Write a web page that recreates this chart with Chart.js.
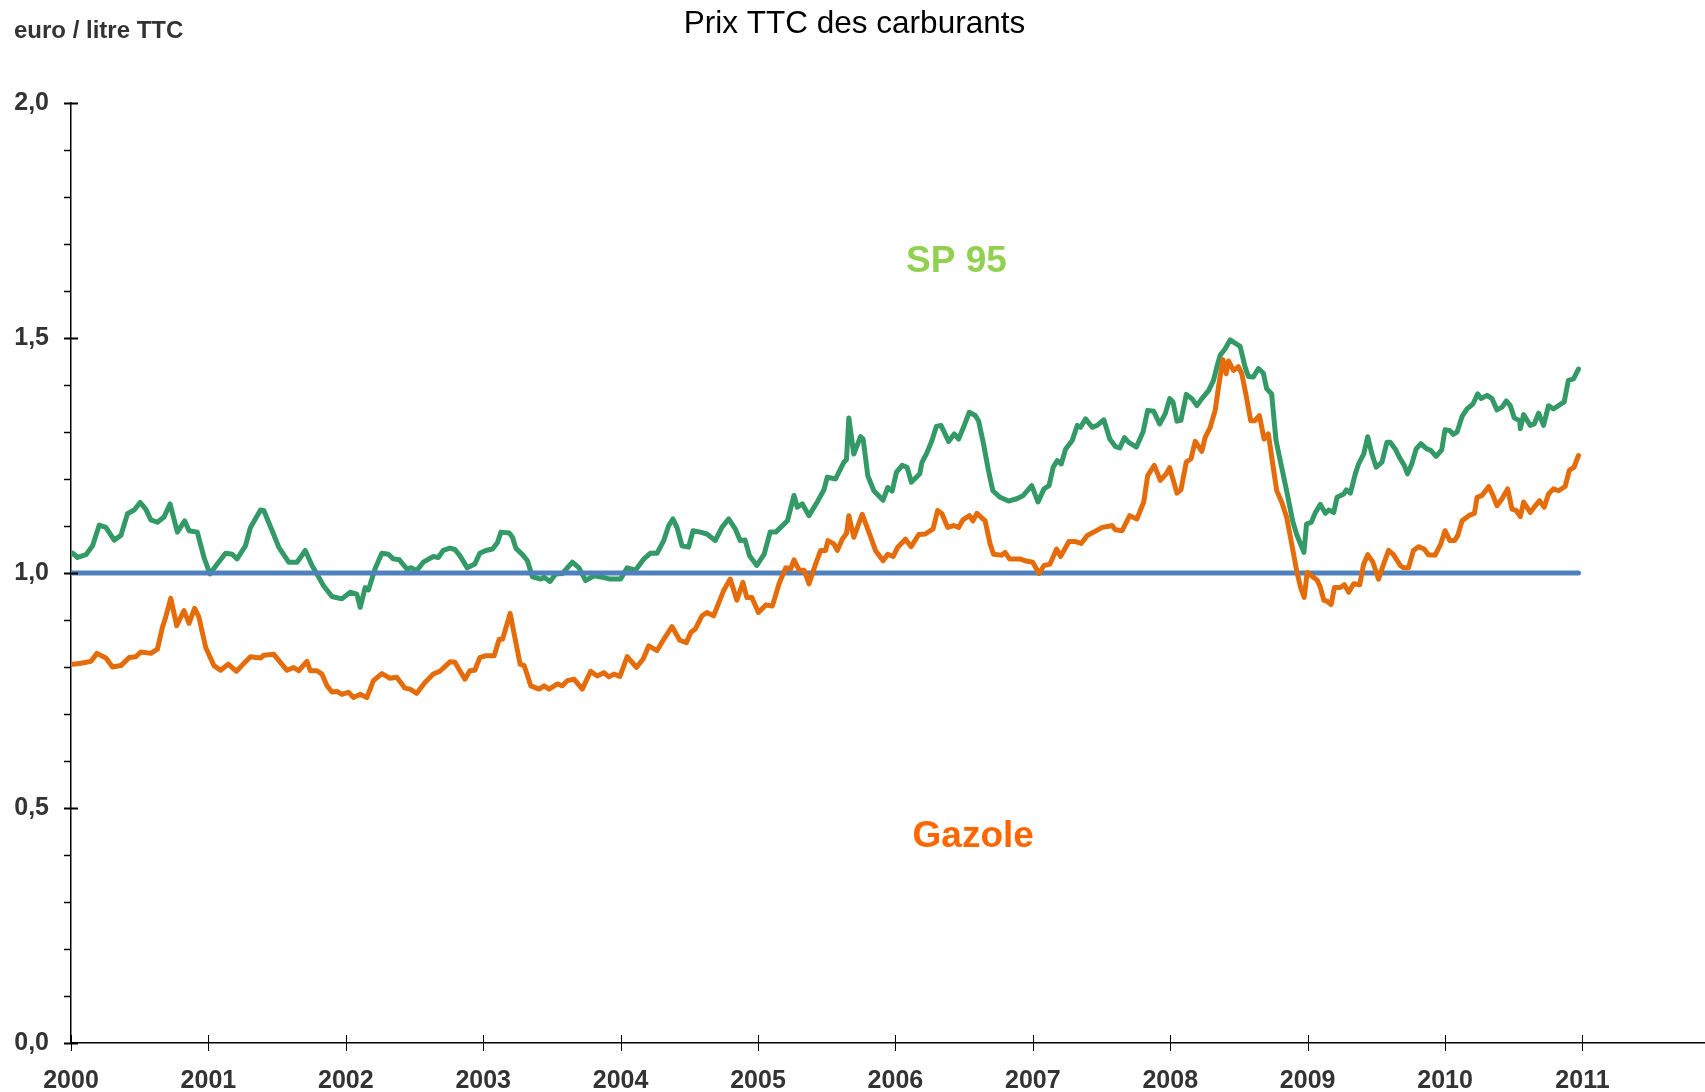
<!DOCTYPE html>
<html lang="fr">
<head>
<meta charset="UTF-8">
<title>Prix TTC des carburants</title>
<script src="https://cdn.jsdelivr.net/npm/chart.js@4.4.1/dist/chart.umd.min.js"></script>
<style>
    body { margin: 0; background: #fff; }
    #wrap { width: 1705px; height: 1092px; }
</style>
</head>
<body>
<div id="wrap"><canvas id="prixChart" width="1705" height="1092"></canvas></div>
<script>
    // years since 2000 and price in euro / litre
    let spTimes = [0.012,0.048,0.109,0.157,0.206,0.254,0.314,0.363,0.411,0.460,0.503,0.544,0.581,0.629,0.677,0.721,0.774,0.827,0.859,0.919,0.968,
        1.011,1.064,1.125,1.173,1.209,1.270,1.306,1.379,1.403,1.464,1.512,1.584,1.645,1.705,1.754,1.790,1.838,1.899,1.971,
        2.032,2.080,2.105,2.141,2.165,2.213,2.262,2.310,2.346,2.390,2.443,2.479,2.516,2.564,2.637,2.673,2.709,2.758,2.794,2.830,2.884,2.939,2.975,
        3.020,3.068,3.104,3.129,3.189,3.213,3.237,3.286,3.322,3.358,3.419,3.443,3.486,3.528,3.576,3.649,3.697,3.745,3.806,3.866,3.927,3.999,
        4.048,4.108,4.169,4.217,4.265,4.314,4.350,4.381,4.410,4.447,4.495,4.527,4.580,4.628,4.689,4.737,4.786,4.834,4.870,4.906,4.938,4.991,
        5.045,5.088,5.129,5.165,5.214,5.262,5.286,5.323,5.371,5.431,5.480,5.504,5.564,5.625,5.644,5.661,5.697,5.746,5.765,5.799,5.843,5.910,5.944,5.976,6.007,
        6.049,6.085,6.116,6.177,6.194,6.225,6.266,6.298,6.332,6.387,6.428,6.460,6.501,6.537,6.581,6.605,6.641,6.677,6.709,6.762,6.823,6.883,6.931,6.992,
        7.038,7.081,7.118,7.149,7.178,7.207,7.239,7.287,7.323,7.347,7.384,7.432,7.468,7.517,7.560,7.601,7.633,7.667,7.698,7.754,7.802,7.836,7.880,7.923,7.964,7.996,
        8.020,8.049,8.078,8.117,8.158,8.194,8.230,8.279,8.315,8.339,8.363,8.400,8.436,8.472,8.509,8.545,8.569,8.605,8.642,8.678,8.702,8.738,8.770,8.811,8.847,8.891,8.919,8.944,8.973,8.992,
        9.027,9.057,9.093,9.129,9.154,9.190,9.214,9.262,9.282,9.311,9.347,9.371,9.408,9.437,9.468,9.499,9.541,9.577,9.601,9.637,9.674,9.703,9.727,9.758,9.790,9.824,9.867,9.896,9.935,9.976,10.000,
        10.035,10.059,10.088,10.124,10.160,10.204,10.238,10.262,10.306,10.342,10.378,10.415,10.446,10.475,10.504,10.543,10.548,10.572,10.620,10.649,10.681,10.717,10.753,10.789,10.826,10.867,10.898,10.935,10.971];
    let spPrices = [1.042,1.033,1.039,1.058,1.102,1.097,1.070,1.080,1.126,1.134,1.150,1.136,1.113,1.108,1.119,1.147,1.087,1.111,1.090,1.087,1.033,
        0.998,1.019,1.042,1.040,1.030,1.058,1.097,1.134,1.133,1.090,1.055,1.023,1.023,1.048,1.016,0.998,0.973,0.950,0.945,
        0.959,0.955,0.927,0.969,0.964,1.009,1.042,1.040,1.030,1.028,1.009,1.011,1.005,1.023,1.035,1.033,1.048,1.053,1.050,1.037,1.011,1.019,1.042,
        1.048,1.051,1.065,1.087,1.085,1.076,1.053,1.039,1.026,0.992,0.987,0.991,0.982,0.998,0.999,1.023,1.011,0.984,0.994,0.991,0.987,0.987,
        1.011,1.006,1.030,1.042,1.042,1.069,1.101,1.115,1.097,1.058,1.055,1.090,1.087,1.083,1.069,1.097,1.115,1.094,1.069,1.070,1.037,1.016,
        1.040,1.087,1.087,1.097,1.111,1.165,1.140,1.147,1.122,1.151,1.177,1.204,1.200,1.236,1.241,1.330,1.253,1.290,1.285,1.207,1.175,1.155,1.182,1.174,1.214,
        1.229,1.225,1.193,1.211,1.236,1.253,1.282,1.312,1.314,1.280,1.296,1.285,1.314,1.342,1.335,1.324,1.275,1.218,1.175,1.161,1.153,1.158,1.165,1.186,
        1.151,1.179,1.186,1.226,1.239,1.232,1.264,1.282,1.314,1.310,1.328,1.310,1.314,1.326,1.285,1.269,1.266,1.288,1.278,1.268,1.300,1.346,1.344,1.317,1.339,1.371,
        1.364,1.323,1.325,1.380,1.371,1.356,1.371,1.388,1.410,1.438,1.463,1.477,1.496,1.489,1.482,1.438,1.418,1.417,1.435,1.425,1.392,1.381,1.282,1.225,1.175,1.111,1.083,1.065,1.044,1.104,
        1.108,1.129,1.146,1.127,1.134,1.129,1.161,1.168,1.177,1.170,1.211,1.232,1.253,1.290,1.253,1.225,1.236,1.278,1.278,1.264,1.243,1.229,1.211,1.232,1.264,1.275,1.264,1.261,1.248,1.262,1.305,
        1.303,1.295,1.300,1.333,1.349,1.360,1.381,1.371,1.378,1.371,1.347,1.353,1.366,1.356,1.330,1.324,1.307,1.337,1.314,1.317,1.340,1.314,1.356,1.349,1.356,1.364,1.410,1.413,1.434];

    let gasTimes = [0.012,0.073,0.145,0.189,0.254,0.302,0.363,0.423,0.472,0.508,0.581,0.629,0.665,0.689,0.726,0.769,0.822,0.859,0.900,0.931,0.980,
        1.040,1.089,1.144,1.204,1.246,1.306,1.379,1.403,1.476,1.572,1.621,1.657,1.717,1.742,1.790,1.826,1.863,1.899,1.935,1.971,
        2.020,2.056,2.105,2.153,2.201,2.262,2.322,2.371,2.431,2.467,2.516,2.576,2.637,2.685,2.758,2.794,2.867,2.903,2.939,2.975,
        3.020,3.080,3.116,3.141,3.196,3.230,3.269,3.298,3.346,3.407,3.443,3.479,3.540,3.576,3.612,3.661,3.721,3.782,3.830,3.878,3.915,3.951,3.995,
        4.048,4.115,4.164,4.205,4.265,4.314,4.374,4.430,4.479,4.512,4.544,4.592,4.628,4.677,4.749,4.798,4.846,4.890,4.918,4.955,5.003,
        5.057,5.105,5.153,5.202,5.238,5.262,5.299,5.335,5.371,5.419,5.456,5.492,5.509,5.552,5.577,5.613,5.644,5.661,5.697,5.758,5.807,5.855,5.910,5.944,5.983,
        6.017,6.073,6.114,6.170,6.218,6.274,6.307,6.339,6.380,6.423,6.460,6.491,6.539,6.564,6.593,6.653,6.689,6.714,6.774,6.798,6.830,6.907,6.943,6.999,
        7.045,7.081,7.125,7.173,7.202,7.263,7.311,7.352,7.396,7.444,7.505,7.541,7.577,7.601,7.650,7.705,7.758,7.807,7.836,7.884,7.928,7.971,7.996,
        8.049,8.078,8.117,8.151,8.182,8.230,8.255,8.291,8.327,8.351,8.383,8.407,8.424,8.460,8.496,8.521,8.552,8.586,8.617,8.649,8.683,8.714,8.746,8.775,8.811,8.847,8.884,8.920,8.949,8.975,8.997,
        9.027,9.069,9.093,9.118,9.142,9.171,9.195,9.238,9.267,9.299,9.335,9.379,9.408,9.437,9.475,9.516,9.553,9.589,9.625,9.674,9.698,9.734,9.770,9.807,9.848,9.879,9.928,9.969,10.000,
        10.035,10.069,10.093,10.124,10.173,10.214,10.233,10.269,10.318,10.349,10.378,10.415,10.456,10.487,10.518,10.548,10.572,10.620,10.649,10.688,10.722,10.753,10.789,10.826,10.874,10.905,10.939,10.971];
    let gasPrices = [0.806,0.808,0.812,0.829,0.819,0.800,0.803,0.820,0.822,0.832,0.829,0.838,0.884,0.906,0.946,0.888,0.920,0.893,0.925,0.906,0.842,
        0.803,0.793,0.806,0.791,0.804,0.822,0.819,0.825,0.827,0.793,0.799,0.792,0.812,0.792,0.792,0.785,0.760,0.747,0.748,0.742,
        0.746,0.735,0.742,0.735,0.771,0.786,0.776,0.778,0.755,0.753,0.744,0.767,0.785,0.791,0.811,0.810,0.774,0.792,0.793,0.820,
        0.824,0.824,0.859,0.859,0.914,0.863,0.806,0.803,0.760,0.753,0.760,0.753,0.764,0.760,0.771,0.774,0.753,0.791,0.781,0.788,0.779,0.785,0.780,
        0.822,0.799,0.817,0.845,0.835,0.859,0.886,0.857,0.852,0.874,0.881,0.909,0.916,0.909,0.962,0.987,0.942,0.980,0.948,0.948,0.916,
        0.932,0.930,0.977,1.011,1.009,1.028,1.006,1.006,0.977,1.019,1.048,1.048,1.069,1.062,1.048,1.072,1.084,1.122,1.076,1.125,1.087,1.048,1.026,1.040,1.035,
        1.055,1.072,1.056,1.082,1.083,1.094,1.133,1.126,1.097,1.101,1.097,1.113,1.122,1.111,1.127,1.111,1.062,1.040,1.038,1.044,1.030,1.030,1.026,1.023,
        0.999,1.016,1.019,1.051,1.035,1.067,1.067,1.063,1.080,1.087,1.097,1.099,1.101,1.092,1.090,1.122,1.115,1.151,1.207,1.229,1.197,1.211,1.224,
        1.170,1.177,1.236,1.243,1.280,1.259,1.289,1.310,1.346,1.395,1.454,1.424,1.451,1.431,1.439,1.424,1.378,1.324,1.324,1.335,1.285,1.296,1.232,1.175,1.151,1.119,1.062,1.005,0.969,0.948,1.001,
        0.994,0.985,0.969,0.942,0.940,0.933,0.969,0.969,0.975,0.959,0.977,0.975,1.019,1.039,1.023,0.987,1.019,1.048,1.039,1.016,1.011,1.011,1.048,1.056,1.051,1.039,1.038,1.062,1.090,
        1.069,1.069,1.080,1.111,1.122,1.127,1.161,1.165,1.184,1.165,1.143,1.158,1.179,1.136,1.133,1.120,1.151,1.129,1.140,1.154,1.140,1.168,1.179,1.175,1.184,1.219,1.225,1.250];

    // reference line at 1 euro
    let refTimes = [0, 10.971];
    let refPrices = [1, 1];

    let yearTicks = [2000,2001,2002,2003,2004,2005,2006,2007,2008,2009,2010,2011];
    let priceTicks = [0, 0.5, 1, 1.5, 2];

    const FONT = '"Liberation Sans", Arial, sans-serif';

    function toPoints(times, values) {
        return times.map((t, i) => ({ x: 2000 + t, y: values[i] }));
    }

    // tick marks crossing the axes, titles and series names
    const decor = {
        id: 'decor',
        afterDraw(chart) {
            const ctx = chart.ctx;
            const xs = chart.scales.x, ys = chart.scales.y;
            const area = chart.chartArea;
            ctx.save();
            ctx.strokeStyle = '#000';
            ctx.lineWidth = 1;
            yearTicks.forEach(v => {
                const px = Math.round(xs.getPixelForValue(v)) + 0.5;
                ctx.beginPath();
                ctx.moveTo(px, area.bottom - 8);
                ctx.lineTo(px, area.bottom + 8);
                ctx.stroke();
            });
            for (let i = 0; i <= 20; i++) {
                const py = Math.round(ys.getPixelForValue(i / 10)) + 0.5;
                const major = i % 5 === 0;
                ctx.lineWidth = major ? 2 : 1.5;
                ctx.beginPath();
                ctx.moveTo(area.left - 7, py);
                ctx.lineTo(major ? area.left + 7 : area.left, py);
                ctx.stroke();
            }

            ctx.textBaseline = 'middle';
            ctx.fillStyle = '#000';
            ctx.textAlign = 'center';
            ctx.font = '31.5px ' + FONT;
            ctx.fillText('Prix TTC des carburants', chart.width / 2 + 2, 24);

            ctx.fillStyle = '#333';
            ctx.textAlign = 'left';
            ctx.font = 'bold 24px ' + FONT;
            ctx.fillText('euro / litre TTC', 14, 31);

            ctx.textAlign = 'center';
            ctx.font = 'bold 37px ' + FONT;
            ctx.fillStyle = '#92D050';
            ctx.fillText('SP 95', xs.getPixelForValue(2006.444), ys.getPixelForValue(1.662));
            ctx.fillStyle = '#FF6600';
            ctx.fillText('Gazole', xs.getPixelForValue(2006.566), ys.getPixelForValue(0.438));
            ctx.restore();
        }
    };

    let ctx = document.getElementById('prixChart').getContext('2d');
    let prixChart = new Chart(ctx, {
        type: 'line',
        data: {
            datasets: [{
                label: 'SP 95',
                data: toPoints(spTimes, spPrices),
                borderColor: '#339966',
                borderWidth: 5,
                order: 3
            },
            {
                label: 'Référence',
                data: toPoints(refTimes, refPrices),
                borderColor: '#4F81BD',
                borderWidth: 5,
                order: 2
            },
            {
                label: 'Gazole',
                data: toPoints(gasTimes, gasPrices),
                borderColor: '#E46C0A',
                borderWidth: 5,
                order: 1
            }]
        },
        options: {
            responsive: false,
            animation: false,
            devicePixelRatio: 1,
            layout: { padding: { top: 103, left: 0, right: 0, bottom: 0 } },
            elements: {
                point: { radius: 0 },
                line: { tension: 0, borderJoinStyle: 'round', borderCapStyle: 'round' }
            },
            plugins: {
                legend: { display: false },
                title: { display: false },
                tooltip: { enabled: false }
            },
            scales: {
                x: {
                    type: 'linear',
                    min: 2000,
                    max: 2011.892,
                    afterBuildTicks: s => { s.ticks = yearTicks.map(v => ({ value: v })); },
                    afterFit: s => { s.height = 49; },
                    grid: { display: true, drawOnChartArea: false, drawTicks: false },
                    border: { display: true, color: '#000', width: 1.5 },
                    ticks: {
                        padding: 23,
                        maxRotation: 0,
                        autoSkip: false,
                        color: '#333',
                        font: { family: FONT, size: 25, weight: 'bold' },
                        callback: v => String(v)
                    }
                },
                y: {
                    min: 0,
                    max: 2,
                    afterBuildTicks: s => { s.ticks = priceTicks.map(v => ({ value: v })); },
                    afterFit: s => { s.width = 71; },
                    grid: { display: true, drawOnChartArea: false, drawTicks: false },
                    border: { display: true, color: '#000', width: 1.5 },
                    ticks: {
                        padding: 22,
                        color: '#333',
                        font: { family: FONT, size: 25, weight: 'bold' },
                        callback: v => v.toFixed(1).replace('.', ',')
                    }
                }
            }
        },
        plugins: [decor]
    });
</script>
</body>
</html>
